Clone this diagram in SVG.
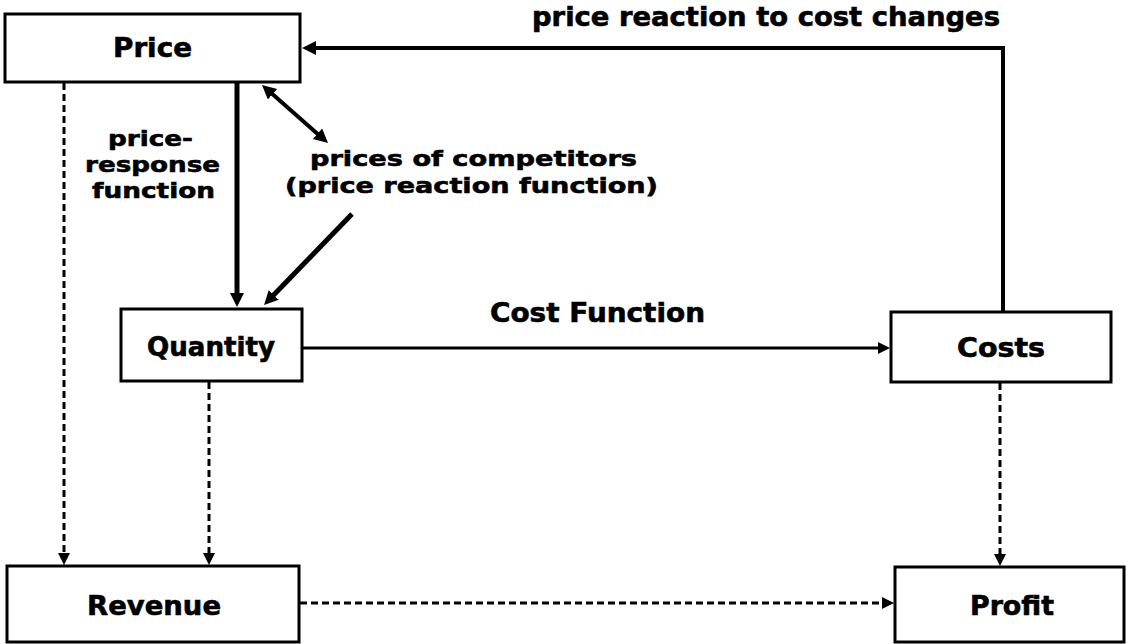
<svg xmlns="http://www.w3.org/2000/svg" width="1128" height="644" viewBox="0 0 1128 644">
<style>
  .box { fill: #fff; stroke: #000; stroke-width: 3; }
  .t { font-family: "DejaVu Sans", "Liberation Sans", sans-serif; font-weight: bold; font-size: 26px; fill: #000; stroke: #000; stroke-width: 0.6; }
  .m { font-size: 22px; }
  .solid { fill: none; stroke: #000; }
  .dash { fill: none; stroke: #000; stroke-width: 3; stroke-dasharray: 7 4; }
</style>
<defs>
  <marker id="a" markerUnits="userSpaceOnUse" markerWidth="16" markerHeight="16" refX="4" refY="7" orient="auto-start-reverse">
    <path d="M0,0 L14,7 L0,14 z" fill="#000"/>
  </marker>
  <marker id="s" markerUnits="userSpaceOnUse" markerWidth="13" markerHeight="13" refX="3" refY="6" orient="auto">
    <path d="M0,0 L12,6 L0,12 z" fill="#000"/>
  </marker>
</defs>
<rect width="1128" height="644" fill="#fff"/>

<g id="connectors">
  <path class="solid" stroke-width="4" d="M1003,312 V48 H312" marker-end="url(#a)"/>
  <path class="solid" stroke-width="5" d="M237,83 V297" marker-end="url(#a)"/>
  <path class="solid" stroke-width="4" d="M269.5,91.6 L320.5,136.4" marker-start="url(#a)" marker-end="url(#a)"/>
  <path class="solid" stroke-width="5" d="M352,214 L271,297.8" marker-end="url(#a)"/>
  <path class="solid" stroke-width="3" d="M302,348 H881" marker-end="url(#s)"/>
  <path class="dash" d="M64,83 V556" marker-end="url(#s)"/>
  <path class="dash" d="M209,382 V556" marker-end="url(#s)"/>
  <path class="dash" d="M1000,383 V557" marker-end="url(#s)"/>
  <path class="dash" stroke-width="2.5" d="M300,603 H885" marker-end="url(#s)"/>
</g>

<g id="labels">
  <text class="t" x="532" y="26" textLength="468" lengthAdjust="spacingAndGlyphs">price reaction to cost changes</text>
  <text class="t m" x="108" y="146" textLength="85" lengthAdjust="spacingAndGlyphs">price-</text>
  <text class="t m" x="85" y="172" textLength="135" lengthAdjust="spacingAndGlyphs">response</text>
  <text class="t m" x="92" y="198" textLength="123" lengthAdjust="spacingAndGlyphs">function</text>
  <text class="t m" x="310" y="166" textLength="327" lengthAdjust="spacingAndGlyphs">prices of competitors</text>
  <text class="t m" x="285" y="193" textLength="373" lengthAdjust="spacingAndGlyphs">(price reaction function)</text>
  <text class="t" x="490" y="322" textLength="215" lengthAdjust="spacingAndGlyphs">Cost Function</text>
</g>

<g id="node-price">
  <rect class="box" x="5" y="14" width="295" height="68"/>
  <text class="t" x="113" y="57" textLength="79" lengthAdjust="spacingAndGlyphs">Price</text>
</g>
<g id="node-quantity">
  <rect class="box" x="121" y="309" width="181" height="72"/>
  <text class="t" x="147" y="356" textLength="128" lengthAdjust="spacingAndGlyphs">Quantity</text>
</g>
<g id="node-costs">
  <rect class="box" x="891" y="312" width="220" height="70"/>
  <text class="t" x="957" y="357" textLength="88" lengthAdjust="spacingAndGlyphs">Costs</text>
</g>
<g id="node-revenue">
  <rect class="box" x="7" y="566" width="292" height="76"/>
  <text class="t" x="87" y="615" textLength="134" lengthAdjust="spacingAndGlyphs">Revenue</text>
</g>
<g id="node-profit">
  <rect class="box" x="895" y="567" width="229" height="75"/>
  <text class="t" x="970" y="615" textLength="84" lengthAdjust="spacingAndGlyphs">Profit</text>
</g>
</svg>
